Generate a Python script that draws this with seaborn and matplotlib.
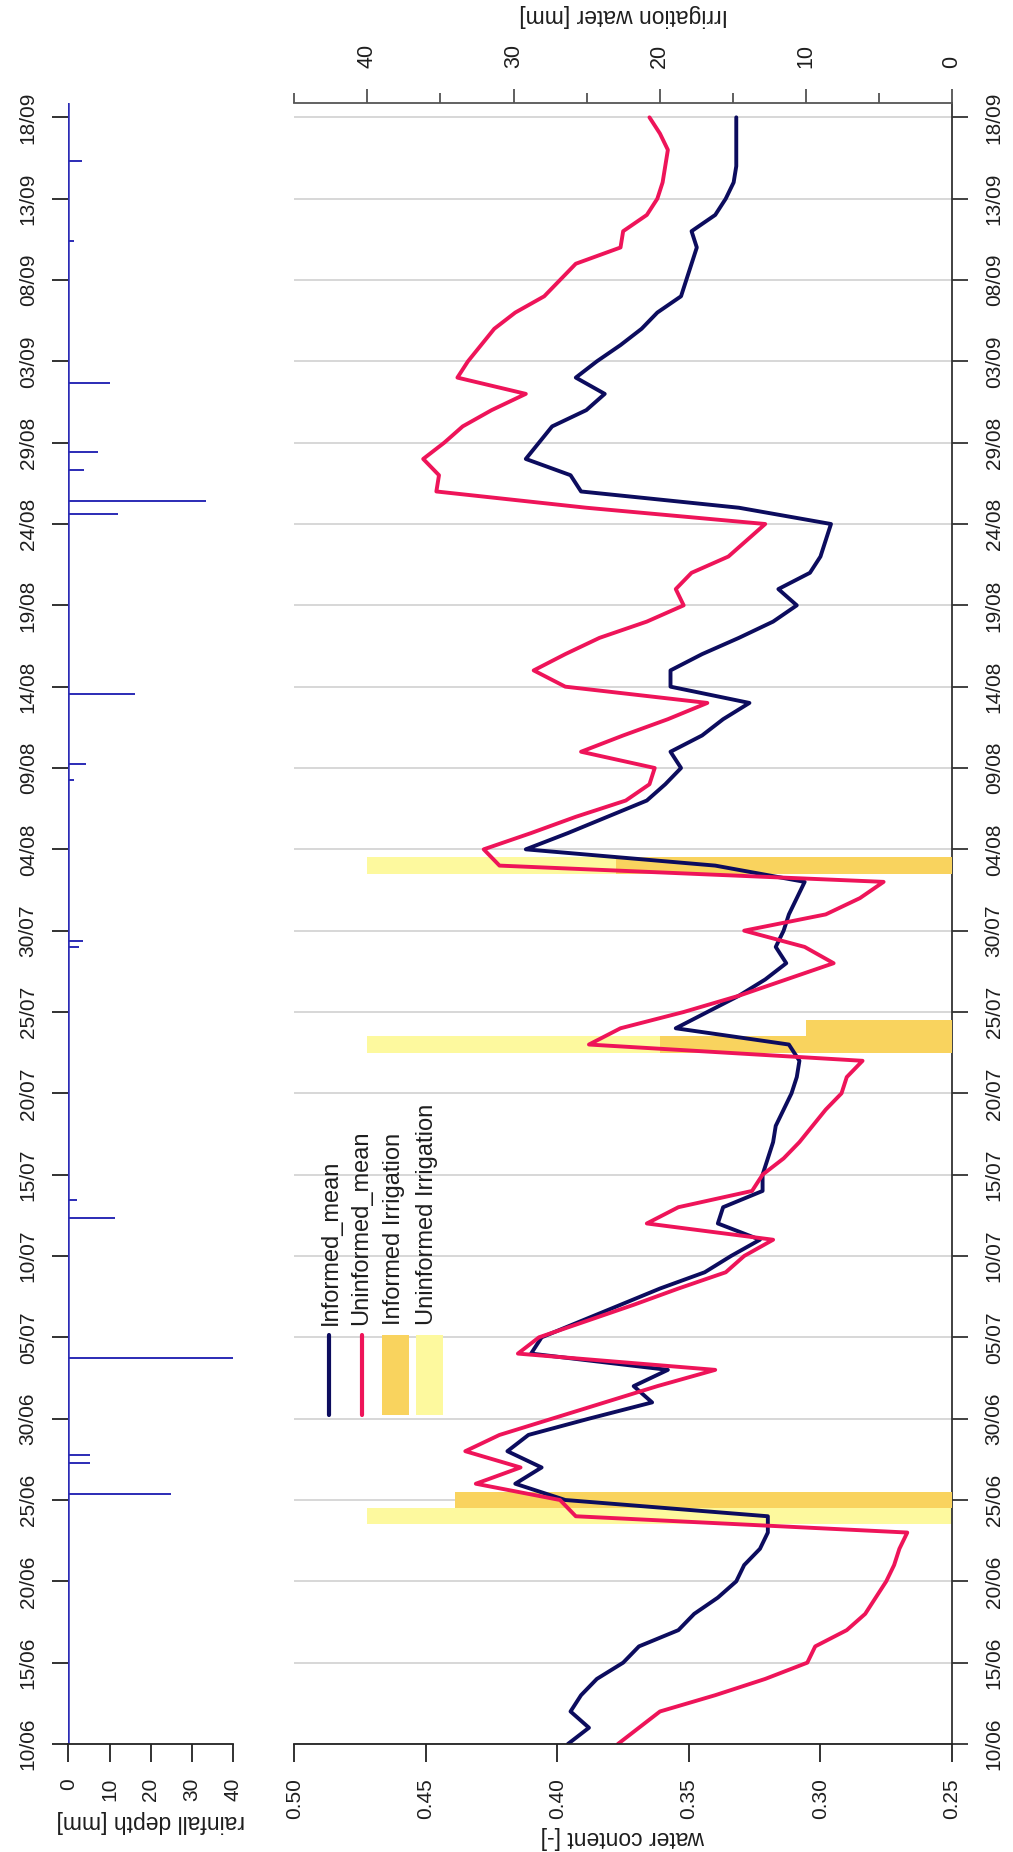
import numpy as np
import pandas as pd
import matplotlib
matplotlib.use("Agg")
import matplotlib.pyplot as plt
import seaborn as sns
from matplotlib.lines import Line2D
from matplotlib.patches import Rectangle

# ---------------------------------------------------------------- data
date_ticks = list(range(0, 101, 5))          # days since 10/06
date_labels = ["10/06", "15/06", "20/06", "25/06", "30/06", "05/07", "10/07",
               "15/07", "20/07", "25/07", "30/07", "04/08", "09/08", "14/08",
               "19/08", "24/08", "29/08", "03/09", "08/09", "13/09", "18/09"]

day = np.arange(101)

informed_mean = [
    0.396, 0.388, 0.395, 0.391, 0.385, 0.375, 0.369, 0.354, 0.348, 0.339,
    0.332, 0.329, 0.323, 0.320, 0.320, 0.397, 0.416, 0.406, 0.419, 0.411,
    0.388, 0.364, 0.371, 0.358, 0.410, 0.406, 0.391, 0.376, 0.361, 0.344,
    0.334, 0.323, 0.339, 0.337, 0.322, 0.322, 0.320, 0.318, 0.317, 0.314,
    0.311, 0.309, 0.308, 0.312, 0.355, 0.343, 0.331, 0.321, 0.313, 0.317,
    0.314, 0.312, 0.309, 0.306, 0.340, 0.412, 0.396, 0.381, 0.366, 0.359,
    0.353, 0.357, 0.345, 0.337, 0.327, 0.357, 0.357, 0.345, 0.331, 0.318,
    0.309, 0.316, 0.304, 0.300, 0.298, 0.296, 0.331, 0.391, 0.395, 0.412,
    0.407, 0.402, 0.389, 0.382, 0.393, 0.385, 0.376, 0.368, 0.362, 0.353,
    0.351, 0.349, 0.347, 0.349, 0.340, 0.336, 0.333, 0.332, 0.332, 0.332,
    0.332]

uninformed_mean = [
    0.377, 0.369, 0.361, 0.340, 0.321, 0.305, 0.302, 0.290, 0.283, 0.279,
    0.275, 0.272, 0.270, 0.267, 0.393, 0.399, 0.431, 0.414, 0.435, 0.422,
    0.402, 0.382, 0.362, 0.340, 0.415, 0.407, 0.389, 0.371, 0.354, 0.336,
    0.329, 0.318, 0.366, 0.354, 0.326, 0.322, 0.314, 0.308, 0.303, 0.298,
    0.292, 0.290, 0.284, 0.388, 0.376, 0.352, 0.331, 0.313, 0.295, 0.306,
    0.329, 0.298, 0.285, 0.276, 0.422, 0.428, 0.410, 0.393, 0.374, 0.365,
    0.363, 0.391, 0.375, 0.358, 0.343, 0.397, 0.409, 0.397, 0.384, 0.366,
    0.352, 0.355, 0.349, 0.335, 0.328, 0.321, 0.389, 0.446, 0.445, 0.451,
    0.443, 0.436, 0.425, 0.412, 0.438, 0.434, 0.429, 0.424, 0.416, 0.405,
    0.399, 0.393, 0.376, 0.375, 0.366, 0.362, 0.360, 0.359, 0.358, 0.361,
    0.365]

rain_day = [15.38, 17.28, 17.77, 23.72, 32.36, 33.44, 49.0, 49.35, 59.26,
            60.24, 64.56, 75.62, 76.44, 78.3, 79.45, 83.64, 92.38, 97.32]
rain_mm = [25.0, 5.3, 5.3, 40.0, 11.3, 2.2, 2.7, 3.6, 1.4,
           4.2, 16.2, 12.1, 33.4, 3.8, 7.3, 10.1, 1.4, 3.2]

irr_uninformed_day = [14, 43, 54]
irr_uninformed_mm = [40, 40, 40]
irr_informed_day = [15, 43, 44, 54]
irr_informed_mm = [34, 20, 10, 23]

wc_ticks = [0.50, 0.45, 0.40, 0.35, 0.30, 0.25]
irr_ticks = [0, 10, 20, 30, 40]
rain_ticks = [0, 10, 20, 30, 40]

series = pd.DataFrame({"day": day,
                       "Informed_mean": informed_mean,
                       "Uninformed_mean": uninformed_mean})

# ---------------------------------------------------------------- style
sns.set_style("white")
plt.rcParams["font.family"] = ["Liberation Sans", "DejaVu Sans"]
TXT = "#1e1e1e"
NAVY = "#0c0c5e"
PINK = "#ee1459"
ORANGE = "#f9d35e"
YELLOW = "#fdf99e"
RAIN = "#2b2bb5"
GRID = "#d4d4d4"

W, H = 1013, 1852
fig = plt.figure(figsize=(W / 100, H / 100), dpi=100)


def fx(px):
    return px / W


def fy(py):
    return 1 - py / H


Y0, Y1 = 1744, 102.7
main_rect = [fx(294.3), fy(Y0), (952 - 294.3) / W, (Y0 - Y1) / H]
rain_rect = [fx(68.3), fy(Y0), (233.3 - 68.3) / W, (Y0 - Y1) / H]
YLIM = (0, 100.9)

# ---------------------------------------------------------------- main panel
ax_irr = fig.add_axes(main_rect)
ax_wc = ax_irr.twiny()

# irrigation bars (base layer, top axis)
ax_irr.barh(irr_uninformed_day, irr_uninformed_mm, height=1.0,
            color=YELLOW, zorder=2, linewidth=0)
ax_irr.barh(irr_informed_day, irr_informed_mm, height=1.0,
            color=ORANGE, zorder=3, linewidth=0)
ax_irr.set_xlim(45, 0)
ax_irr.set_ylim(*YLIM)
ax_irr.set_axisbelow(True)
ax_irr.yaxis.grid(True, color=GRID, lw=1.3)
ax_irr.xaxis.grid(False)

ax_irr.xaxis.tick_top()
ax_irr.xaxis.set_label_position("top")
ax_irr.set_xticks(irr_ticks)
ax_irr.set_xticks([5, 15, 25, 35, 45], minor=True)
ax_irr.set_xticklabels([str(t) for t in irr_ticks], rotation=90)
ax_irr.tick_params(axis="x", which="major", direction="out", length=10,
                   width=1.2, pad=15, labelsize=15.5, colors="#444444",
                   labelcolor=TXT, top=True, bottom=False)
ax_irr.tick_params(axis="x", which="minor", direction="out", length=7,
                   width=1.2, colors="#444444", top=True, bottom=False)
ax_irr.set_xlabel("Irrigation water [mm]", rotation=180, fontsize=16.5,
                  color=TXT, va="center")
ax_irr.xaxis.set_label_coords(0.5, (Y0 - 16) / (Y0 - Y1))

ax_irr.yaxis.tick_right()
ax_irr.set_yticks(date_ticks)
ax_irr.set_yticklabels(date_labels, rotation=90, va="center")
ax_irr.tick_params(axis="y", direction="out", length=11.5, width=1.3,
                   pad=12, labelsize=15, colors="#333333", labelcolor=TXT,
                   right=True, left=False)

for side in ["left", "bottom"]:
    ax_irr.spines[side].set_visible(False)
ax_irr.spines["top"].set_color("#555555")
ax_irr.spines["top"].set_linewidth(1.3)
ax_irr.spines["right"].set_color("#333333")
ax_irr.spines["right"].set_linewidth(1.3)

# water content lines (upper layer, bottom axis)
sns.lineplot(data=series, x="Informed_mean", y="day", orient="y",
             estimator=None, color=NAVY, lw=2.8, ax=ax_wc)
sns.lineplot(data=series, x="Uninformed_mean", y="day", orient="y",
             estimator=None, color=PINK, lw=2.8, ax=ax_wc)
ax_wc.set_xlim(0.50, 0.25)
ax_wc.set_ylim(*YLIM)
ax_wc.xaxis.tick_bottom()
ax_wc.xaxis.set_label_position("bottom")
ax_wc.set_xticks(wc_ticks)
ax_wc.set_xticklabels([f"{t:.2f}" for t in wc_ticks], rotation=90)
ax_wc.tick_params(axis="x", direction="out", length=13, width=1.3, pad=11.5,
                  labelsize=15, colors="#222222", labelcolor=TXT,
                  bottom=True, top=False)
ax_wc.set_xlabel("water content [-]", rotation=180, fontsize=16.5,
                 color=TXT, va="center")
ax_wc.xaxis.set_label_coords(0.5, (Y0 - 1838) / (Y0 - Y1))
ax_wc.set_ylabel("")
for side in ["left", "top", "right"]:
    ax_wc.spines[side].set_visible(False)
ax_wc.spines["bottom"].set_color("#222222")
ax_wc.spines["bottom"].set_linewidth(1.3)

# ---------------------------------------------------------------- rainfall panel
ax_rain = fig.add_axes(rain_rect)
ax_rain.hlines(rain_day, 0, rain_mm, color=RAIN, lw=1.4)
ax_rain.axvline(0, color=RAIN, lw=1.8)
ax_rain.set_xlim(0, 40)
ax_rain.set_ylim(*YLIM)
ax_rain.set_xticks(rain_ticks)
ax_rain.set_xticklabels([str(t) for t in rain_ticks], rotation=90)
ax_rain.tick_params(axis="x", direction="out", length=13, width=1.3, pad=11.5,
                    labelsize=15, colors="#222222", labelcolor=TXT,
                    bottom=True)
ax_rain.set_yticks(date_ticks)
ax_rain.set_yticklabels(date_labels, rotation=90, va="center")
ax_rain.tick_params(axis="y", direction="out", length=11.5, width=1.3,
                    pad=10.5, labelsize=15, colors="#222222", labelcolor=TXT,
                    left=True)
ax_rain.set_xlabel("rainfall depth [mm]", rotation=180, fontsize=16.5,
                   color=TXT, va="center")
ax_rain.xaxis.set_label_coords(0.5, (Y0 - 1821) / (Y0 - Y1))
for side in ["left", "top", "right"]:
    ax_rain.spines[side].set_visible(False)
ax_rain.spines["bottom"].set_color("#222222")
ax_rain.spines["bottom"].set_linewidth(1.3)

# ---------------------------------------------------------------- legend
legend_items = [
    ("Informed_mean", "line", NAVY, 329, 331),
    ("Uninformed_mean", "line", PINK, 361.5, 361),
    ("Informed Irrigation", "patch", ORANGE, 395, 393.5),
    ("Uninformed Irrigation", "patch", YELLOW, 429, 426.5),
]
for label, kind, col, sx, tx in legend_items:
    if kind == "line":
        fig.add_artist(Line2D([fx(sx), fx(sx)], [fy(1415), fy(1335)],
                              transform=fig.transFigure, color=col, lw=3,
                              solid_capstyle="round"))
    else:
        fig.add_artist(Rectangle((fx(sx - 13.5), fy(1415)), 27 / W, 80 / H,
                                 transform=fig.transFigure, color=col, lw=0))
    fig.text(fx(tx), fy(1325), label, rotation=90, ha="center", va="bottom",
             fontsize=17, color=TXT)

fig.savefig("out.png", dpi=100)
